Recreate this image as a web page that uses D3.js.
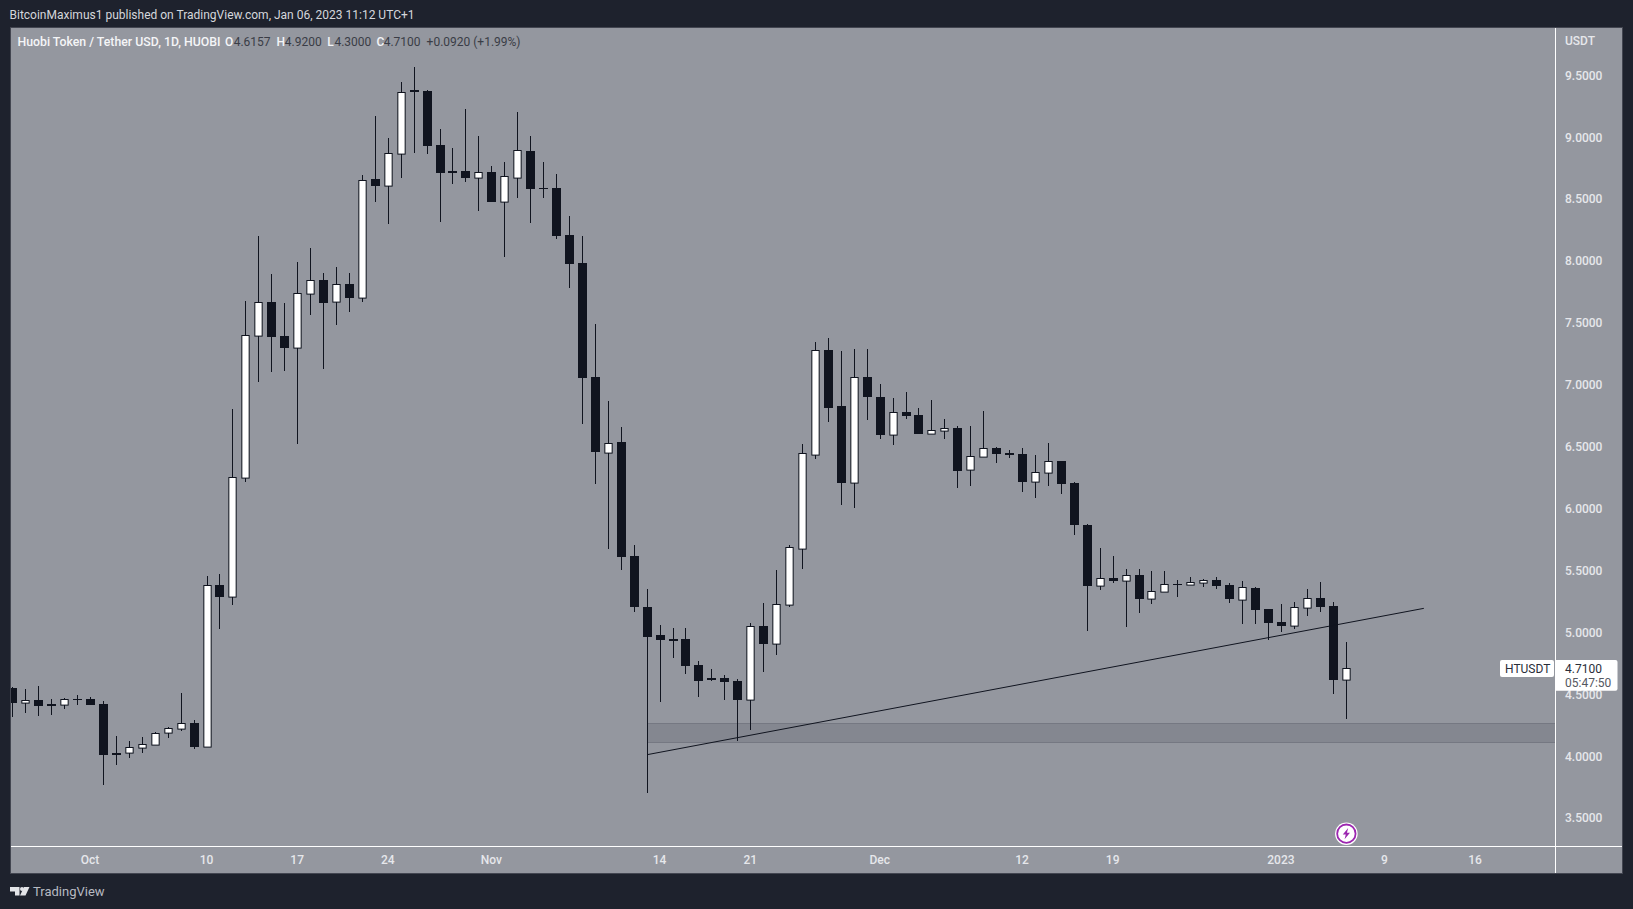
<!DOCTYPE html>
<html><head><meta charset="utf-8">
<style>
html,body{margin:0;padding:0;background:#1e222d;overflow:hidden}
svg{display:block}
text{font-family:Roboto,sans-serif;font-size:12px}
</style>
<script src="https://cdn.jsdelivr.net/npm/d3@7"></script>
</head><body>
<svg id="c" width="1633" height="909"></svg>
<script>
const startDate = "2022-09-25";
const opens = [4.548,4.429,4.451,4.418,4.408,4.458,4.458,4.418,4.020,4.020,4.065,4.089,4.181,4.219,4.265,4.073,5.379,5.285,6.246,7.393,
7.663,7.391,7.296,7.733,7.843,7.668,7.811,7.700,8.659,8.605,8.863,9.378,9.370,8.934,8.724,8.724,8.670,8.716,8.476,8.670,
8.885,8.586,8.586,8.207,7.980,7.060,6.448,6.535,5.614,5.202,4.975,4.943,4.943,4.733,4.628,4.628,4.604,4.453,5.048,4.905,
5.220,5.673,6.432,7.278,6.825,6.206,7.060,6.898,6.593,6.777,6.753,6.602,6.626,6.648,6.311,6.416,6.486,6.446,6.438,6.214,
6.287,6.381,6.203,5.864,5.374,5.436,5.414,5.460,5.269,5.325,5.387,5.382,5.398,5.420,5.379,5.261,5.355,5.185,5.080,5.051,
5.196,5.274,5.210,4.6157];
const highs = [4.553,4.539,4.564,4.456,4.467,4.491,4.475,4.442,4.160,4.119,4.152,4.192,4.232,4.507,4.286,5.452,5.468,6.801,7.674,8.199,
7.892,7.657,7.989,8.102,7.897,7.946,7.897,8.691,9.168,8.990,9.443,9.564,9.378,9.063,8.909,9.224,9.006,8.764,8.796,9.200,
9.006,8.796,8.699,8.360,8.199,7.488,6.866,6.656,5.702,5.347,5.056,5.032,5.032,4.763,4.701,4.650,4.618,5.070,5.234,5.501,
5.702,6.516,7.342,7.375,7.270,7.286,7.286,7.003,6.890,6.938,6.809,6.874,6.720,6.664,6.664,6.785,6.494,6.470,6.486,6.429,
6.526,6.381,6.211,5.872,5.678,5.614,5.509,5.509,5.492,5.492,5.420,5.444,5.428,5.444,5.395,5.412,5.363,5.185,5.226,5.242,
5.347,5.404,5.242,4.92];
const lows = [4.316,4.348,4.324,4.332,4.380,4.412,4.412,3.766,3.928,3.984,4.025,4.089,4.146,4.202,4.057,4.073,5.026,5.220,6.214,7.019,
7.102,7.108,6.521,7.560,7.127,7.480,7.587,7.668,8.476,8.298,8.670,8.871,8.863,8.314,8.621,8.637,8.403,8.476,8.031,8.508,
8.306,8.508,8.177,7.781,6.682,6.198,5.673,5.503,5.164,3.702,4.437,4.792,4.663,4.477,4.606,4.453,4.122,4.210,4.679,4.816,
5.204,5.511,6.400,6.698,6.026,6.004,6.715,6.561,6.510,6.720,6.602,6.602,6.561,6.165,6.182,6.416,6.365,6.405,6.133,6.085,
6.182,6.117,5.786,5.010,5.341,5.398,5.043,5.156,5.228,5.325,5.285,5.382,5.366,5.349,5.236,5.067,5.067,4.937,5.002,5.026,
5.131,5.164,4.501,4.30];
const closes = [4.429,4.448,4.405,4.405,4.456,4.451,4.412,4.008,4.008,4.068,4.092,4.181,4.222,4.262,4.071,5.379,5.285,6.249,7.396,7.663,
7.385,7.296,7.736,7.841,7.660,7.808,7.700,8.649,8.605,8.867,9.359,9.364,8.928,8.710,8.710,8.670,8.713,8.476,8.681,8.891,
8.581,8.581,8.201,7.975,7.054,6.456,6.524,5.608,5.204,4.962,4.938,4.930,4.727,4.606,4.614,4.598,4.453,5.046,4.905,5.223,
5.684,6.443,7.275,6.809,6.206,7.057,6.900,6.593,6.774,6.747,6.602,6.629,6.645,6.303,6.419,6.484,6.440,6.432,6.214,6.290,
6.379,6.198,5.866,5.374,5.433,5.414,5.458,5.269,5.328,5.385,5.380,5.401,5.417,5.374,5.269,5.361,5.180,5.075,5.051,5.199,
5.272,5.204,4.6157,4.71];
const priceTicks = [3.5,4,4.5,5,5.5,6,6.5,7,7.5,8,8.5,9,9.5];
const timeTicks = ["2022-10-01","2022-10-10","2022-10-17","2022-10-24","2022-11-01","2022-11-14","2022-11-21","2022-12-01","2022-12-12","2022-12-19","2023-01-01","2023-01-09","2023-01-16"];
const timeLabels = ["Oct","10","17","24","Nov","14","21","Dec","12","19","2023","9","16"];
const zoneDate = "2022-11-13", zoneTop = 4.265, zoneBottom = 4.114;
const trendDates = ["2022-11-13","2023-01-12"], trendPrices = [4.009,5.191];
const lastPrice = 4.71, countdown = "05:47:50", symbol = "HTUSDT", quote = "USDT";
const publisher = "BitcoinMaximus1 published on TradingView.com, Jan 06, 2023 11:12 UTC+1";
const title = "Huobi Token / Tether USD, 1D, HUOBI";
const ohlcLabels = ["O","H","L","C"], ohlcValues = ["4.6157","4.9200","4.3000","4.7100"];
const changeText = "+0.0920 (+1.99%)";

const DARK="#10141f", WHITE="#ffffff", BG="#1e222d", PANE="#94979f", TXT="#e6e7eb", FONT="Roboto,sans-serif";
const paneL=11, paneT=28, paneR=1622, paneB=873, axisX=1555, axisY=846;
const d = s => new Date(s+"T00:00:00Z");
const x = d3.scaleUtc().domain([d(startDate), d3.utcDay.offset(d(startDate),103)]).range([12.83,12.83+103*12.945]);
const y = d3.scaleLinear().domain([3.5,9.5]).range([817.7,74.9]);
const candles = opens.map((o,i)=>({date:d3.utcDay.offset(d(startDate),i),o,h:highs[i],l:lows[i],c:closes[i]}));

const svg = d3.select("#c");
svg.append("rect").attr("width",1633).attr("height",909).attr("fill",BG);
svg.append("rect").attr("x",paneL-1).attr("y",paneT-1).attr("width",paneR-paneL+2).attr("height",paneB-paneT+2).attr("fill","#434651");
svg.append("rect").attr("x",paneL).attr("y",paneT).attr("width",paneR-paneL).attr("height",paneB-paneT).attr("fill",PANE);
svg.append("defs").append("clipPath").attr("id","plot").append("rect").attr("x",paneL).attr("y",paneT).attr("width",axisX-paneL).attr("height",axisY-paneT);
const plot = svg.append("g").attr("clip-path","url(#plot)");

// zone
const zx = Math.round(x(d(zoneDate)));
plot.append("rect").attr("x",zx).attr("y",Math.round(y(zoneTop))).attr("width",axisX-zx).attr("height",Math.round(y(zoneBottom))-Math.round(y(zoneTop)))
  .attr("fill","#848790");
[zoneTop,zoneBottom].forEach(v=>plot.append("rect").attr("x",zx).attr("y",Math.round(y(v))).attr("width",axisX-zx).attr("height",1).attr("fill","#757882"));

// candles
const g = plot.append("g").selectAll("g").data(candles).join("g");
g.append("rect").attr("class","wick")
  .attr("x",c=>Math.floor(x(c.date))).attr("width",1)
  .attr("y",c=>Math.round(y(c.h))).attr("height",c=>Math.max(1,Math.round(y(c.l))-Math.round(y(c.h)))).attr("fill",DARK);
g.each(function(c){
  const cx=Math.floor(x(c.date)), top=Math.round(y(Math.max(c.o,c.c))), bot=Math.round(y(Math.min(c.o,c.c)));
  const h=Math.max(1,bot-top), up=c.c>=c.o, s=d3.select(this);
  if(!up){ s.append("rect").attr("x",cx-4).attr("y",top).attr("width",9).attr("height",h).attr("fill",DARK); }
  else{
    s.append("rect").attr("x",cx-3.65).attr("y",top).attr("width",8.3).attr("height",Math.max(h,2)+0.6).attr("fill",DARK);
    s.append("rect").attr("x",cx-2.65).attr("y",top+1).attr("width",6.3).attr("height",Math.max(h-1.4,0.8)).attr("fill",WHITE);
  }
});

// trend line
plot.append("line").attr("x1",x(d(trendDates[0]))).attr("y1",y(trendPrices[0])).attr("x2",x(d(trendDates[1]))).attr("y2",y(trendPrices[1]))
  .attr("stroke","#10141f").attr("stroke-width",1);

// axis separators
svg.append("rect").attr("x",paneL).attr("y",axisY).attr("width",paneR-paneL).attr("height",1).attr("fill","#fff");
svg.append("rect").attr("x",axisX).attr("y",paneT).attr("width",1).attr("height",paneB-paneT).attr("fill","#fff");

// price axis
const ya = svg.append("g").attr("transform",`translate(${axisX},0.4)`).call(d3.axisRight(y).tickValues(priceTicks).tickSize(0).tickPadding(10).tickFormat(d3.format(".4f")));
ya.select(".domain").remove();
ya.selectAll("text").attr("fill",TXT).style("font-size","12px").style("font-family",FONT).style("font-weight",500);
svg.append("text").attr("x",1565).attr("y",45).attr("fill",TXT).attr("font-weight",500).text(quote);

// time axis
const xa = svg.append("g").attr("transform",`translate(-1,${axisY})`).call(d3.axisBottom(x).tickValues(timeTicks.map(d)).tickSize(0).tickPadding(9).tickFormat((t,i)=>timeLabels[i]));
xa.select(".domain").remove();
xa.selectAll("text").attr("fill",TXT).style("font-size","12px").style("font-family",FONT).style("font-weight",500);

// header
svg.append("text").attr("x",9.5).attr("y",18.5).attr("fill","#d5d7dc").text(publisher);
const tl = svg.append("g").attr("fill","#f4f5f7").attr("font-weight",500);
tl.append("text").attr("x",17.5).attr("y",46).style("font-size","12.3px").text(title);
const ohlcX=[225,276.6,327.3,376.6], ohlcValX=[233.7,284.8,334.4,383.7];
ohlcLabels.forEach((l,i)=>{
  tl.append("text").attr("x",ohlcX[i]).attr("y",46).text(l);
  svg.append("text").attr("x",ohlcValX[i]).attr("y",46).attr("fill","#3a3d46").text(ohlcValues[i]);
});
svg.append("text").attr("x",426.6).attr("y",46).attr("fill","#3a3d46").text(changeText);

// price tags
svg.append("rect").attr("x",1500).attr("y",660).attr("width",54).attr("height",17).attr("rx",2).attr("fill","#fff");
svg.append("text").attr("x",1505).attr("y",673).attr("fill","#2a2e39").text(symbol);
svg.append("path").attr("d","M1556 660H1615.5a2 2 0 0 1 2 2V688.7a2 2 0 0 1 -2 2H1556Z").attr("fill","#fff");
svg.append("text").attr("x",1565).attr("y",y(lastPrice)+5).attr("fill","#2a2e39").text(lastPrice.toFixed(4));
svg.append("text").attr("x",1565).attr("y",687).attr("fill","#55585f").text(countdown);

// news marker
const mx=x(d3.utcDay.offset(d(startDate),103))+0.2, my=833.7;
svg.append("circle").attr("cx",mx).attr("cy",my).attr("r",11.3).attr("fill","#fff");
svg.append("circle").attr("cx",mx).attr("cy",my).attr("r",9.2).attr("fill","#fff").attr("stroke","#9c27b0").attr("stroke-width",1.8);
svg.append("path").attr("transform",`translate(${mx},${my})`).attr("d","M1.8 -5.6 L-3.6 0.9 L-0.6 0.9 L-1.8 5.6 L3.6 -1 L0.6 -1 Z").attr("fill","#9c27b0");

// footer
const logo = svg.append("g").attr("fill","#e3e4e8");
logo.append("path").attr("d","M10 887H19.5V895.5H15V891.5H10Z");
logo.append("circle").attr("cx",22).attr("cy",889).attr("r",2);
logo.append("path").attr("d","M24 887H29.5L25.5 895.5H20Z");
svg.append("text").attr("x",33).attr("y",895.5).attr("fill","#b7bac1").style("font-size","13px").text("TradingView");
</script>
</body></html>
